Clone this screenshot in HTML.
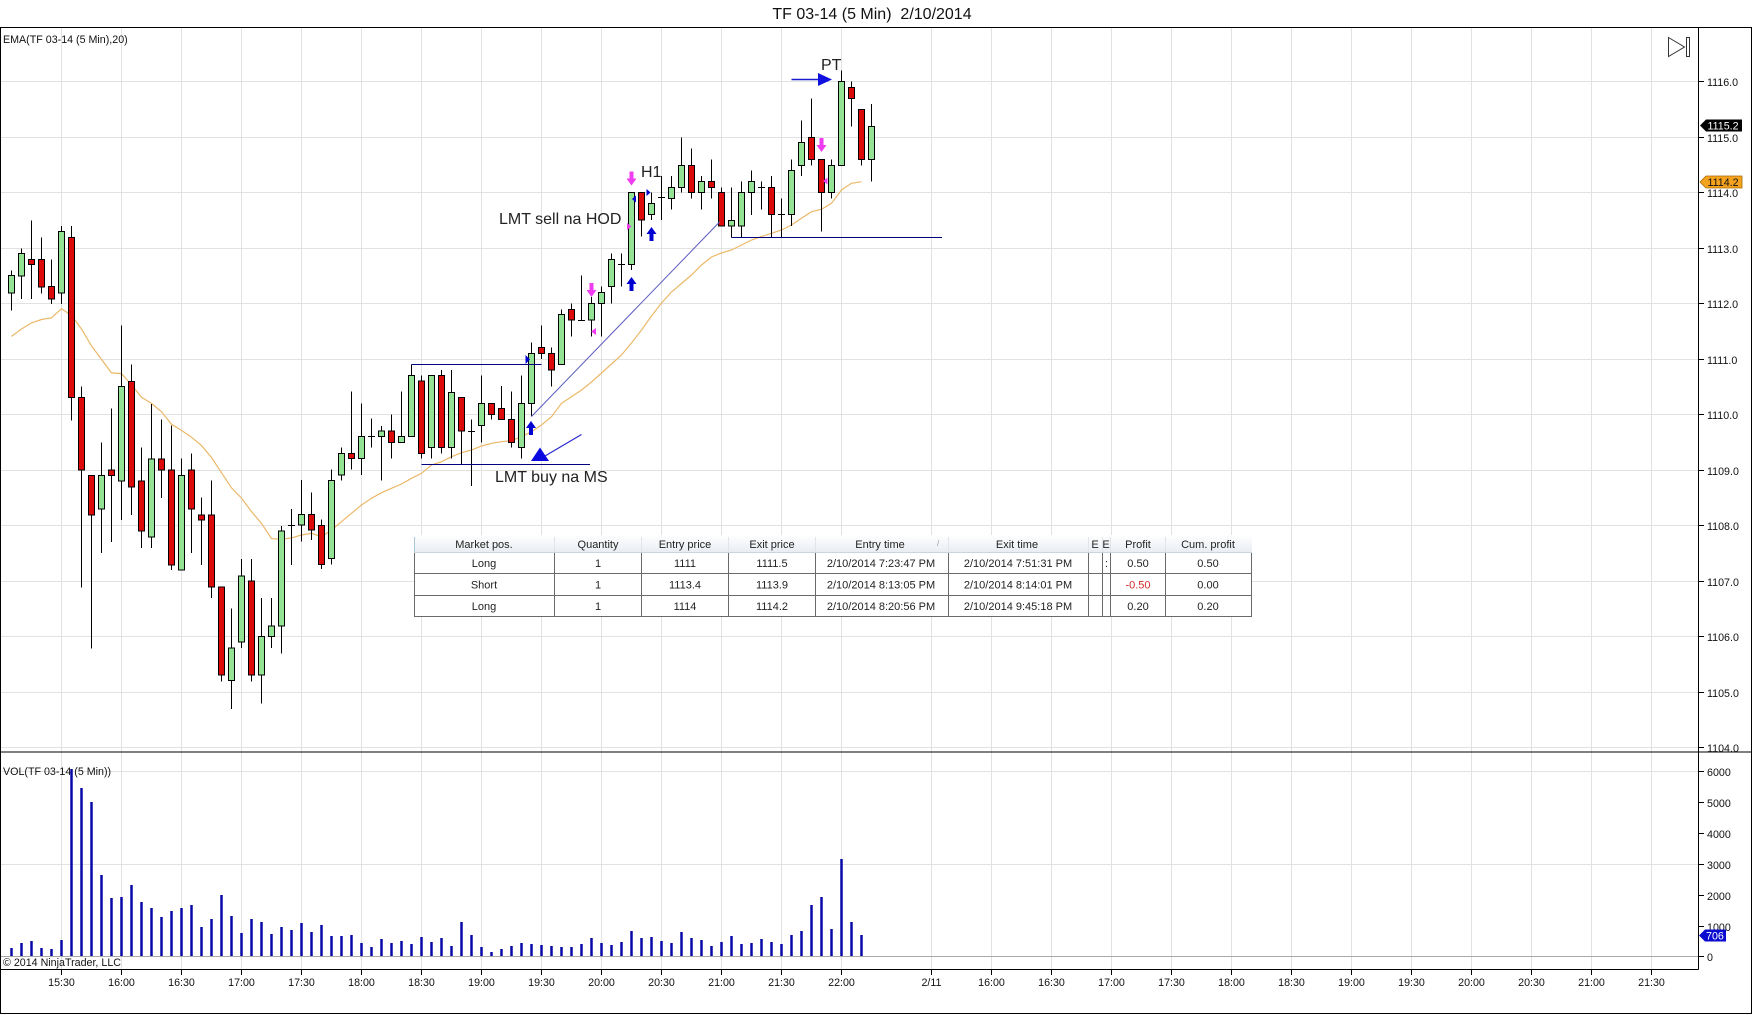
<!DOCTYPE html>
<html><head><meta charset="utf-8"><style>
html,body{margin:0;padding:0;background:#fff;}
svg{display:block;font-family:"Liberation Sans",Arial,sans-serif;}
</style></head><body>
<svg width="1752" height="1015" viewBox="0 0 1752 1015" xmlns="http://www.w3.org/2000/svg">
<defs><linearGradient id="hg" x1="0" y1="0" x2="0" y2="1"><stop offset="0" stop-color="#ffffff"/><stop offset="1" stop-color="#e9eef3"/></linearGradient></defs>
<rect width="1752" height="1015" fill="#fff"/>
<text x="872" y="19" font-size="16" text-anchor="middle" fill="#111" style="white-space:pre">TF 03-14 (5 Min)  2/10/2014</text>
<!-- grid -->
<g stroke="#e2e2e2" stroke-width="1" fill="none">
<path d="M61.5 28V969M121.5 28V969M181.5 28V969M241.5 28V969M301.5 28V969M361.5 28V969M421.5 28V969M481.5 28V969M541.5 28V969M601.5 28V969M661.5 28V969M721.5 28V969M781.5 28V969M841.5 28V969M931.5 28V969M991.5 28V969M1051.5 28V969M1111.5 28V969M1171.5 28V969M1231.5 28V969M1291.5 28V969M1351.5 28V969M1411.5 28V969M1471.5 28V969M1531.5 28V969M1591.5 28V969M1651.5 28V969"/>
<path d="M0 81.5H1698M0 137.5H1698M0 192.5H1698M0 248.5H1698M0 303.5H1698M0 359.5H1698M0 414.5H1698M0 470.5H1698M0 525.5H1698M0 581.5H1698M0 636.5H1698M0 692.5H1698M0 747.5H1698"/>
<path d="M0 771.5H1698M0 864.5H1698"/>
</g>
<path d="M0 956.5H1698" stroke="#a8a8a8" stroke-width="1"/>
<!-- frame -->
<g stroke="#000" stroke-width="1" fill="none">
<path d="M0 27.5H1752M0 752H1752M0.5 27.5V1013M1751.5 27.5V1013M0 1013.5H1752M0 969.5H1698.5M1698.5 28V969.5"/>
<path d="M1698 81.5h6M1698 137.5h6M1698 192.5h6M1698 248.5h6M1698 303.5h6M1698 359.5h6M1698 414.5h6M1698 470.5h6M1698 525.5h6M1698 581.5h6M1698 636.5h6M1698 692.5h6M1698 747.5h6"/>
<path d="M1698 771.5h6M1698 802.5h6M1698 833.5h6M1698 864.5h6M1698 895.5h6M1698 926.5h6M1698 956.5h6"/>
<path d="M61.5 969v6M121.5 969v6M181.5 969v6M241.5 969v6M301.5 969v6M361.5 969v6M421.5 969v6M481.5 969v6M541.5 969v6M601.5 969v6M661.5 969v6M721.5 969v6M781.5 969v6M841.5 969v6M931.5 969v6M991.5 969v6M1051.5 969v6M1111.5 969v6M1171.5 969v6M1231.5 969v6M1291.5 969v6M1351.5 969v6M1411.5 969v6M1471.5 969v6M1531.5 969v6M1591.5 969v6M1651.5 969v6"/>
</g>
<!-- axis labels -->
<g font-size="10.7" fill="#111">
<text x="1707" y="86">1116.0</text><text x="1707" y="142">1115.0</text><text x="1707" y="197">1114.0</text><text x="1707" y="253">1113.0</text><text x="1707" y="308">1112.0</text><text x="1707" y="364">1111.0</text><text x="1707" y="419">1110.0</text><text x="1707" y="475">1109.0</text><text x="1707" y="530">1108.0</text><text x="1707" y="586">1107.0</text><text x="1707" y="641">1106.0</text><text x="1707" y="697">1105.0</text><text x="1707" y="752">1104.0</text>
<text x="1707" y="776">6000</text><text x="1707" y="807">5000</text><text x="1707" y="838">4000</text><text x="1707" y="869">3000</text><text x="1707" y="900">2000</text><text x="1707" y="931">1000</text><text x="1707" y="961">0</text>
</g>
<g font-size="10.7" fill="#111" text-anchor="middle">
<text x="61.5" y="986">15:30</text><text x="121.5" y="986">16:00</text><text x="181.5" y="986">16:30</text><text x="241.5" y="986">17:00</text><text x="301.5" y="986">17:30</text><text x="361.5" y="986">18:00</text><text x="421.5" y="986">18:30</text><text x="481.5" y="986">19:00</text><text x="541.5" y="986">19:30</text><text x="601.5" y="986">20:00</text><text x="661.5" y="986">20:30</text><text x="721.5" y="986">21:00</text><text x="781.5" y="986">21:30</text><text x="841.5" y="986">22:00</text><text x="931.5" y="986">2/11</text><text x="991.5" y="986">16:00</text><text x="1051.5" y="986">16:30</text><text x="1111.5" y="986">17:00</text><text x="1171.5" y="986">17:30</text><text x="1231.5" y="986">18:00</text><text x="1291.5" y="986">18:30</text><text x="1351.5" y="986">19:00</text><text x="1411.5" y="986">19:30</text><text x="1471.5" y="986">20:00</text><text x="1531.5" y="986">20:30</text><text x="1591.5" y="986">21:00</text><text x="1651.5" y="986">21:30</text>
</g>
<g font-size="10.7" fill="#111">
<text x="3" y="43">EMA(TF 03-14 (5 Min),20)</text>
<text x="3" y="775">VOL(TF 03-14 (5 Min))</text>
<text x="3" y="966">© 2014 NinjaTrader, LLC</text>
</g>
<!-- icon -->
<g fill="none" stroke="#333" stroke-width="1"><path d="M1668.5 37.5L1684.5 47L1668.5 56.5Z"/><rect x="1686.5" y="37.5" width="3" height="19"/></g>
<!-- EMA -->
<polyline fill="none" stroke="#ebb868" stroke-width="1.2" points="11.5,336.4 21.5,329 31.5,322.9 41.5,319.5 51.5,317.8 61.5,308.7 71.5,315.4 81.5,329 91.5,345.9 101.5,359.4 111.5,372.9 121.5,373.6 131.5,384.8 141.5,397.3 151.5,403.4 161.5,411.8 171.5,424.3 181.5,430.4 191.5,437.2 201.5,445.6 211.5,457.5 221.5,472.7 231.5,487.9 241.5,498.1 251.5,511.6 261.5,523.4 271.5,538.6 281.5,539.3 291.5,537.9 301.5,535 311.5,533.3 321.5,536.7 331.5,530 341.5,521.7 351.5,513.3 361.5,505 371.5,498.3 381.5,492.7 391.5,488.3 401.5,484 411.5,478.3 421.5,473.3 431.5,465 441.5,461.7 451.5,456.7 461.5,452.7 471.5,450 481.5,446 491.5,443.3 501.5,441.7 511.5,440.7 521.5,436.7 531.5,431.7 541.5,425 551.5,416.7 561.5,403.3 571.5,396.7 581.5,390 591.5,382 601.5,373 611.5,364 621.5,355 631.5,343 641.5,330 651.5,316 661.5,303 671.5,292 681.5,283.5 691.5,275 701.5,265 711.5,257 721.5,253 731.5,250 741.5,245 751.5,240 761.5,236.5 771.5,233.3 781.5,230 791.5,225 801.5,218.3 811.5,211.7 821.5,209.3 831.5,203.3 841.5,190 851.5,183.3 861.5,181.7"/>
<!-- wicks -->
<path fill="none" stroke="#000" stroke-width="1" d="M11.5 270.5V310.5M21.5 248.5V299M31.5 220.5V299M41.5 237.5V293.5M51.5 259.5V304M61.5 226V304M71.5 226V420.5M81.5 386.5V587.5M91.5 475.5V648.5M101.5 442.5V553M111.5 408.5V542M121.5 325.5V520M131.5 364.5V515M141.5 447.5V548M151.5 404V548M161.5 419.5V498M171.5 425.5V570M181.5 458.5V570M191.5 453.5V553M201.5 497.5V565M211.5 480.5V598M221.5 587V681.5M231.5 608.5V709M241.5 559V648M251.5 559V681.5M261.5 598V703.5M271.5 598V648M281.5 526V653.5M291.5 509V565M301.5 480V541.5M311.5 492.5V540M321.5 519.5V569M331.5 469.5V564.5M341.5 447.5V480.5M351.5 391.5V469.5M361.5 403.5V475M371.5 418.5V447.5M381.5 426V480.5M391.5 414.5V458.5M401.5 391.5V442.5M411.5 364.5V436.5M421.5 375.5V458.5M431.5 375.5V458.5M441.5 370V453.5M451.5 370V458.5M461.5 397.5V464M471.5 419.5V486M481.5 375.5V442.5M491.5 403.5V419.5M501.5 386V419.5M511.5 391.5V447.5M521.5 375.5V458.5M531.5 342.5V416.5M541.5 325.5V359M551.5 347.5V386.5M561.5 309.5V364.5M571.5 303.5V336.5M581.5 275.5V320M591.5 297V336.5M601.5 286.5V336.5M611.5 253.5V303.5M621.5 253.5V286.5M631.5 192.5V270M641.5 192.5V236.5M651.5 192.5V220M661.5 176V220M671.5 176V209.5M681.5 137.5V192.5M691.5 148.5V198.5M701.5 176V209.5M711.5 159.5V198.5M721.5 187.5V226M731.5 187.5V237.5M741.5 181.5V237.5M751.5 170.5V215M761.5 181.5V209.5M771.5 176V237.5M781.5 198.5V237.5M791.5 159.5V226M801.5 120.5V176M811.5 98.5V165.5M821.5 159.5V231.5M831.5 159.5V198.5M841.5 70.5V165.5M851.5 81.5V126.5M861.5 109.5V165.5M871.5 104V181.5"/>
<!-- dojis -->
<path fill="none" stroke="#000" stroke-width="1" d="M288 525.5h7M368 436.5h7M468 431.5h7M578 320.5h7M618 264.5h7M658 197.5h7M758 187.5h7M778 214.5h7"/>
<!-- red bodies -->
<g fill="#dd0a0a" stroke="#000" stroke-width="1">
<rect x="28.5" y="259.5" width="6" height="5"/><rect x="38.5" y="259.5" width="6" height="27.5"/><rect x="48.5" y="286.5" width="6" height="12.5"/><rect x="68.5" y="237.5" width="6" height="160"/><rect x="78.5" y="397.5" width="6" height="72.5"/><rect x="88.5" y="475.5" width="6" height="39.5"/><rect x="108.5" y="470" width="6" height="5.5"/><rect x="128.5" y="381.5" width="6" height="105.5"/><rect x="138.5" y="481" width="6" height="50"/><rect x="158.5" y="459" width="6" height="11"/><rect x="168.5" y="470" width="6" height="95"/><rect x="188.5" y="470" width="6" height="39"/><rect x="198.5" y="515" width="6" height="5"/><rect x="208.5" y="515" width="6" height="72"/><rect x="218.5" y="587" width="6" height="88"/><rect x="248.5" y="581" width="6" height="94"/><rect x="308.5" y="514.5" width="6" height="15.5"/><rect x="318.5" y="525.5" width="6" height="39"/><rect x="348.5" y="453.5" width="6" height="5"/><rect x="388.5" y="431" width="6" height="11.5"/><rect x="418.5" y="381" width="6" height="72.5"/><rect x="438.5" y="375.5" width="6" height="72"/><rect x="458.5" y="397.5" width="6" height="33.5"/><rect x="488.5" y="403.5" width="6" height="11"/><rect x="498.5" y="408.5" width="6" height="11"/><rect x="508.5" y="419.5" width="6" height="23"/><rect x="538.5" y="347.5" width="6" height="6"/><rect x="548.5" y="353.5" width="6" height="16.5"/><rect x="568.5" y="309.5" width="6" height="10.5"/><rect x="638.5" y="192.5" width="6" height="27.5"/><rect x="688.5" y="165.5" width="6" height="27"/><rect x="708.5" y="181.5" width="6" height="6"/><rect x="718.5" y="192.5" width="6" height="33.5"/><rect x="768.5" y="187.5" width="6" height="27"/><rect x="808.5" y="137.5" width="6" height="22"/><rect x="818.5" y="159.5" width="6" height="33"/><rect x="848.5" y="87.5" width="6" height="11"/><rect x="858.5" y="109.5" width="6" height="50"/>
</g>
<!-- green bodies -->
<g fill="#94e394" stroke="#000" stroke-width="1">
<rect x="8.5" y="275.5" width="6" height="17.5"/><rect x="18.5" y="253.5" width="6" height="22.5"/><rect x="58.5" y="231.5" width="6" height="61.5"/><rect x="98.5" y="475.5" width="6" height="33.5"/><rect x="118.5" y="386.5" width="6" height="94.5"/><rect x="148.5" y="459" width="6" height="78"/><rect x="178.5" y="475.5" width="6" height="94.5"/><rect x="228.5" y="648" width="6" height="32.5"/><rect x="238.5" y="576" width="6" height="66"/><rect x="258.5" y="636.5" width="6" height="38.5"/><rect x="268.5" y="626" width="6" height="10.5"/><rect x="278.5" y="531" width="6" height="95"/><rect x="298.5" y="514.5" width="6" height="10.5"/><rect x="328.5" y="480.5" width="6" height="78"/><rect x="338.5" y="453.5" width="6" height="21.5"/><rect x="358.5" y="436.5" width="6" height="22"/><rect x="378.5" y="431" width="6" height="5.5"/><rect x="398.5" y="436.5" width="6" height="6"/><rect x="408.5" y="375.5" width="6" height="61"/><rect x="428.5" y="375.5" width="6" height="72"/><rect x="448.5" y="392.5" width="6" height="55"/><rect x="478.5" y="403.5" width="6" height="22"/><rect x="518.5" y="403.5" width="6" height="44"/><rect x="528.5" y="353.5" width="6" height="50"/><rect x="558.5" y="314.5" width="6" height="50"/><rect x="588.5" y="303.5" width="6" height="16.5"/><rect x="598.5" y="292.5" width="6" height="11"/><rect x="608.5" y="259.5" width="6" height="27"/><rect x="628.5" y="192.5" width="6" height="72"/><rect x="648.5" y="203.5" width="6" height="11"/><rect x="668.5" y="187.5" width="6" height="11"/><rect x="678.5" y="165.5" width="6" height="22"/><rect x="698.5" y="181.5" width="6" height="11"/><rect x="728.5" y="220.5" width="6" height="5.5"/><rect x="738.5" y="192.5" width="6" height="33.5"/><rect x="748.5" y="181.5" width="6" height="11"/><rect x="788.5" y="170.5" width="6" height="44"/><rect x="798.5" y="142.5" width="6" height="23"/><rect x="828.5" y="165.5" width="6" height="27"/><rect x="838.5" y="81.5" width="6" height="84"/><rect x="868.5" y="126.5" width="6" height="33"/>
</g>
<!-- annotations -->
<g stroke="#000080" stroke-width="1" fill="none"><path d="M411.5 364.5H541.5M421.5 464.5H590M731.5 237.5H942"/></g>
<path d="M531.5 416.5L720 221.5" stroke="#5a5ac0" stroke-width="1" fill="none"/>
<path d="M581.5 434.5L545 456" stroke="#2a2ad0" stroke-width="1.2" fill="none"/>
<polygon points="540,447.5 531,461 549,461" fill="#0a0ae0"/>
<path d="M791.5 79.5H819" stroke="#1a1ad0" stroke-width="1.6" fill="none"/>
<polygon points="818,73 832,79.5 818,86" fill="#1010e0"/>
<g font-size="16" fill="#222">
<text x="499" y="224">LMT sell na HOD</text>
<text x="495" y="482">LMT buy na MS</text>
<text x="641" y="177">H1</text>
<text x="821" y="70">PT</text>
</g>
<!-- magenta down arrows -->
<g fill="#f03cf0">
<polygon points="589.5,283 593.5,283 593.5,290 596.5,290 591.5,297 586.5,290 589.5,290"/>
<polygon points="629.5,171.5 633.5,171.5 633.5,178.5 636.5,178.5 631.5,185.5 626.5,178.5 629.5,178.5"/>
<polygon points="819.5,138 823.5,138 823.5,145 826.5,145 821.5,152 816.5,145 819.5,145"/>
<polygon points="591,331.5 596,328 596,335"/>
<polygon points="627,223 631.5,226.5 627,230"/>
<polygon points="823,181 827.5,177.5 827.5,184.5"/>
</g>
<!-- blue up arrows -->
<g fill="#0000d0">
<polygon points="531,421 536,428 533,428 533,435 529,435 529,428 526,428"/>
<polygon points="631.5,277 636.5,284 633.5,284 633.5,291 629.5,291 629.5,284 626.5,284"/>
<polygon points="651.5,227 656.5,234 653.5,234 653.5,241 649.5,241 649.5,234 646.5,234"/>
<polygon points="525.5,355 530,359.5 525.5,364"/>
<polygon points="632,199 636,195.5 636,202.5"/>
<polygon points="646.5,189 650.5,192.5 646.5,196"/>
</g>
<!-- volume -->
<path fill="none" stroke="#0808a8" stroke-width="2.5" d="M11.5 956v-8M21.5 956v-13M31.5 956v-15M41.5 956v-8M51.5 956v-7M61.5 956v-16M71.5 956v-187M81.5 956v-168M91.5 956v-154M101.5 956v-81M111.5 956v-58M121.5 956v-59M131.5 956v-71M141.5 956v-54M151.5 956v-48M161.5 956v-39M171.5 956v-45M181.5 956v-48M191.5 956v-51M201.5 956v-29M211.5 956v-37M221.5 956v-61M231.5 956v-40M241.5 956v-23M251.5 956v-37M261.5 956v-34M271.5 956v-22M281.5 956v-29M291.5 956v-26M301.5 956v-33M311.5 956v-24M321.5 956v-31M331.5 956v-20M341.5 956v-20M351.5 956v-21M361.5 956v-13M371.5 956v-9M381.5 956v-17M391.5 956v-13M401.5 956v-15M411.5 956v-12M421.5 956v-19M431.5 956v-14M441.5 956v-18M451.5 956v-10M461.5 956v-34M471.5 956v-21M481.5 956v-9M491.5 956v-4M501.5 956v-7M511.5 956v-10M521.5 956v-13M531.5 956v-12M541.5 956v-11M551.5 956v-10M561.5 956v-9M571.5 956v-9M581.5 956v-12M591.5 956v-18M601.5 956v-13M611.5 956v-11M621.5 956v-14M631.5 956v-25M641.5 956v-18M651.5 956v-19M661.5 956v-15M671.5 956v-13M681.5 956v-24M691.5 956v-18M701.5 956v-16M711.5 956v-10M721.5 956v-14M731.5 956v-20M741.5 956v-12M751.5 956v-13M761.5 956v-17M771.5 956v-14M781.5 956v-12M791.5 956v-21M801.5 956v-25M811.5 956v-51M821.5 956v-59M831.5 956v-27M841.5 956v-97M851.5 956v-34M861.5 956v-21"/>
<!-- axis tags -->
<polygon points="1700,125.5 1706,119.5 1742,119.5 1742,131.5 1706,131.5" fill="#000"/>
<text x="1707.5" y="129.5" font-size="10.7" fill="#fff">1115.2</text>
<polygon points="1700,182 1706,176 1742,176 1742,188 1706,188" fill="#f5a31e" stroke="#a66a00" stroke-width="0.8"/>
<text x="1707.5" y="186" font-size="10.7" fill="#111">1114.2</text>
<polygon points="1699,935.5 1705,929.5 1726,929.5 1726,941.5 1705,941.5" fill="#0a0ad0"/>
<text x="1706" y="939.5" font-size="10.7" fill="#fff">706</text>
<!-- table -->
<rect x="414" y="535" width="838" height="82" fill="#fff"/>
<rect x="414" y="535" width="838" height="17" fill="url(#hg)"/>
<path d="M414 552.5H1252" stroke="#c9d6e0" stroke-width="1"/>
<path d="M414.5 537V552M554.5 537V552M641.5 537V552M728.5 537V552M815.5 537V552M948.5 537V552M1088.5 537V552M1102.5 537V552M1110.5 537V552M1165.5 537V552" stroke="#dfe5ea" stroke-width="1"/>
<path d="M414.5 537V552" stroke="#a9c7da" stroke-width="1"/>
<g stroke="#6a6a6a" stroke-width="1" fill="none">
<path d="M414 573.5H1252M414 595.5H1252M414 616.5H1252"/>
<path d="M414.5 553V617M554.5 553V617M641.5 553V617M728.5 553V617M815.5 553V617M948.5 553V617M1088.5 553V617M1102.5 553V617M1110.5 553V617M1165.5 553V617M1251.5 553V617"/>
</g>
<g font-size="11" fill="#222" text-anchor="middle">
<text x="484" y="548">Market pos.</text><text x="598" y="548">Quantity</text><text x="685" y="548">Entry price</text><text x="772" y="548">Exit price</text><text x="880" y="548">Entry time</text><text x="1017" y="548">Exit time</text><text x="1095" y="548">E</text><text x="1106" y="548">E</text><text x="1138" y="548">Profit</text><text x="1208" y="548">Cum. profit</text>
<text x="484" y="567">Long</text><text x="598" y="567">1</text><text x="685" y="567">1111</text><text x="772" y="567">1111.5</text><text x="881" y="567">2/10/2014 7:23:47 PM</text><text x="1018" y="567">2/10/2014 7:51:31 PM</text><text x="1138" y="567">0.50</text><text x="1208" y="567">0.50</text>
<text x="484" y="588.5">Short</text><text x="598" y="588.5">1</text><text x="685" y="588.5">1113.4</text><text x="772" y="588.5">1113.9</text><text x="881" y="588.5">2/10/2014 8:13:05 PM</text><text x="1018" y="588.5">2/10/2014 8:14:01 PM</text><text x="1138" y="588.5" fill="#d42a2a">-0.50</text><text x="1208" y="588.5">0.00</text>
<text x="484" y="610">Long</text><text x="598" y="610">1</text><text x="685" y="610">1114</text><text x="772" y="610">1114.2</text><text x="881" y="610">2/10/2014 8:20:56 PM</text><text x="1018" y="610">2/10/2014 9:45:18 PM</text><text x="1138" y="610">0.20</text><text x="1208" y="610">0.20</text>
</g>
<text x="1105" y="567" font-size="11" fill="#222">:</text>
<text x="937" y="546" font-size="8" fill="#999">/</text>
</svg>
</body></html>
